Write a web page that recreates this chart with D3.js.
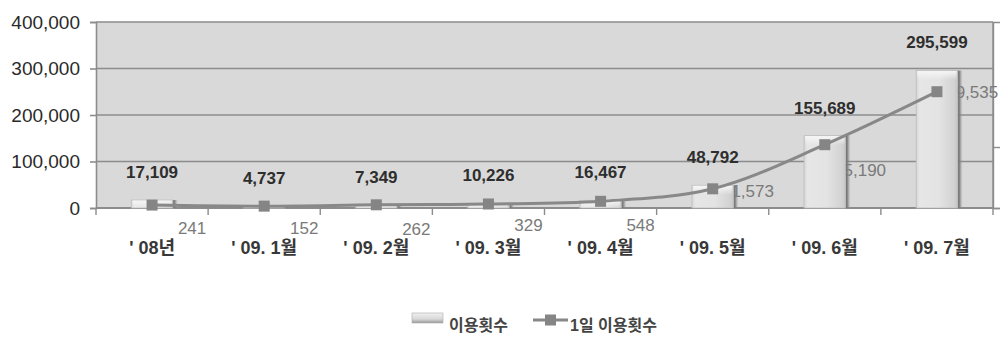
<!DOCTYPE html>
<html>
<head>
<meta charset="utf-8">
<script src="https://d3js.org/d3.v7.min.js"></script>
<style>
  body { margin: 0; background: #fff; }
  text { font-family: "Liberation Sans", Arial, "Noto Sans CJK KR", sans-serif; }
  .ko { font-family: "Liberation Sans", "Noto Sans CJK KR", sans-serif; }
</style>
</head>
<body>
<div class="chart"></div>
<script>
// data
var categories = ["' 08년", "' 09. 1월", "' 09. 2월", "' 09. 3월", "' 09. 4월", "' 09. 5월", "' 09. 6월", "' 09. 7월"];
var useCount = [17109, 4737, 7349, 10226, 16467, 48792, 155689, 295599];
var dailyCount = [241, 152, 262, 329, 548, 1573, 5190, 9535];
var leftTicks = [0, 100000, 200000, 300000, 400000];
var seriesNames = ["이용횟수", "1일 이용횟수"];

var w = 1004, h = 337;
var plotL = 96, plotR = 993, plotT = 22, plotB = 208;

var svg = d3.select(".chart").append("svg")
  .attr("width", w).attr("height", h);

var defs = svg.append("defs");
var g1 = defs.append("linearGradient").attr("id", "barGrad").attr("x1", 0).attr("x2", 1).attr("y1", 0).attr("y2", 0);
[[0, "#d6d6d6"], [0.08, "#e6e6e6"], [0.55, "#e3e3e3"], [0.92, "#d2d2d2"], [1, "#c4c4c4"]]
  .forEach(function(s) { g1.append("stop").attr("offset", s[0]).attr("stop-color", s[1]); });
var g2 = defs.append("linearGradient").attr("id", "topGrad").attr("x1", 0).attr("x2", 0).attr("y1", 0).attr("y2", 1);
g2.append("stop").attr("offset", 0).attr("stop-color", "#f6f6f6").attr("stop-opacity", 1);
g2.append("stop").attr("offset", 1).attr("stop-color", "#f6f6f6").attr("stop-opacity", 0);
var g4 = defs.append("linearGradient").attr("id", "shadowGrad").attr("x1", 0).attr("x2", 1).attr("y1", 0).attr("y2", 0);
g4.append("stop").attr("offset", 0).attr("stop-color", "#6a6a6a").attr("stop-opacity", 1);
g4.append("stop").attr("offset", 0.35).attr("stop-color", "#7a7a7a").attr("stop-opacity", 0.9);
g4.append("stop").attr("offset", 1).attr("stop-color", "#9a9a9a").attr("stop-opacity", 0);
var g3 = defs.append("linearGradient").attr("id", "legGrad").attr("x1", 0).attr("x2", 0).attr("y1", 0).attr("y2", 1);
g3.append("stop").attr("offset", 0).attr("stop-color", "#f0f0f0");
g3.append("stop").attr("offset", 0.6).attr("stop-color", "#d8d8d8");
g3.append("stop").attr("offset", 1).attr("stop-color", "#999");

var x = d3.scaleBand().domain(categories).range([plotL, plotR]);
var yL = d3.scaleLinear().domain([0, 400000]).range([plotB, plotT]);
var yR = d3.scaleLinear().domain([0, 15250]).range([plotB, plotT]);

// plot area
svg.append("rect")
  .attr("x", plotL).attr("y", plotT)
  .attr("width", plotR - plotL).attr("height", plotB - plotT)
  .attr("fill", "#d9d9d9");

svg.append("g").selectAll("line")
  .data(leftTicks.slice(1))
  .enter().append("line")
  .attr("x1", plotL).attr("x2", plotR)
  .attr("y1", function(d) { return yL(d); })
  .attr("y2", function(d) { return yL(d); })
  .attr("stroke", "#8c8c8c").attr("stroke-width", 1.6);

// right border
svg.append("line")
  .attr("x1", plotR).attr("x2", plotR).attr("y1", plotT).attr("y2", plotB)
  .attr("stroke", "#8c8c8c").attr("stroke-width", 1.4);

// left axis
var axL = svg.append("g")
  .attr("transform", "translate(" + plotL + ",0)")
  .call(d3.axisLeft(yL).tickValues(leftTicks).tickFormat(d3.format(",")).tickSize(6).tickPadding(10));
axL.select(".domain").attr("stroke", "#8c8c8c").attr("stroke-width", 1.6);
axL.selectAll(".tick line").attr("stroke", "#8c8c8c").attr("stroke-width", 1.6);
axL.selectAll("text").attr("font-size", 19).attr("fill", "#2a2a2a")
  .attr("font-family", "Liberation Sans, Arial, sans-serif");

// right axis (no labels)
var axR = svg.append("g")
  .attr("transform", "translate(" + plotR + ",0)")
  .call(d3.axisRight(yR).tickValues([0, 5000]).tickFormat("").tickSize(7));
axR.select(".domain").attr("stroke", "#8c8c8c").attr("stroke-width", 1.4);
axR.selectAll(".tick line").attr("stroke", "#8c8c8c").attr("stroke-width", 1.4);

// bottom axis: boundary ticks + centred labels
var bounds = categories.map(function(c) { return x(c); }).concat([plotR]);
svg.append("line")
  .attr("x1", plotL).attr("x2", plotR).attr("y1", plotB).attr("y2", plotB)
  .attr("stroke", "#8c8c8c").attr("stroke-width", 1.8);
svg.append("g").selectAll("line")
  .data(bounds).enter().append("line")
  .attr("x1", function(d) { return d; }).attr("x2", function(d) { return d; })
  .attr("y1", plotB).attr("y2", plotB + 7)
  .attr("stroke", "#8c8c8c").attr("stroke-width", 1.4);
svg.append("g").selectAll("text")
  .data(categories).enter().append("text")
  .attr("class", "ko")
  .attr("x", function(d) { return x(d) + x.bandwidth() / 2; })
  .attr("y", 248)
  .attr("dy", "0.35em")
  .attr("text-anchor", "middle")
  .attr("font-size", 18)
  .attr("font-weight", "bold")
  .attr("fill", "#383838")
  .text(function(d) { return d; });

// line value labels (behind the bars, as in the original)
var lineLabelDy = [23, 22, 24, 21, 24, 2, 25, 0];
svg.append("g").selectAll("text")
  .data(dailyCount).enter().append("text")
  .attr("x", function(d, i) { return x(categories[i]) + x.bandwidth() / 2 + 40; })
  .attr("y", function(d, i) { return yR(d) + lineLabelDy[i]; })
  .attr("dy", "0.35em")
  .attr("text-anchor", "middle")
  .attr("font-size", 17)
  .attr("fill", "#7a7a7a")
  .text(function(d) { return d3.format(",")(d); });

// bars
var barW = x.bandwidth() * 0.37;
var barX = function(i) { return x(categories[i]) + (x.bandwidth() - barW) / 2; };
var bars = svg.append("g").selectAll("g")
  .data(useCount).enter().append("g");
bars.append("rect")
  .attr("x", function(d, i) { return barX(i) + barW; })
  .attr("y", function(d) { return yL(d); })
  .attr("width", 5)
  .attr("height", function(d) { return plotB - yL(d); })
  .attr("fill", "url(#shadowGrad)");
bars.append("rect")
  .attr("x", function(d, i) { return barX(i); })
  .attr("y", function(d) { return yL(d); })
  .attr("width", barW)
  .attr("height", function(d) { return plotB - yL(d); })
  .attr("fill", "url(#barGrad)")
  .attr("stroke", "#bdbdbd").attr("stroke-width", 0.8);
bars.append("rect")
  .attr("x", function(d, i) { return barX(i) + 1; })
  .attr("y", function(d) { return yL(d) + 0.5; })
  .attr("width", barW - 2)
  .attr("height", function(d) { return Math.min(9, plotB - yL(d)); })
  .attr("fill", "url(#topGrad)");

// bar value labels
svg.append("g").selectAll("text")
  .data(useCount).enter().append("text")
  .attr("x", function(d, i) { return x(categories[i]) + x.bandwidth() / 2; })
  .attr("y", function(d) { return yL(d) - 28; })
  .attr("dy", "0.35em")
  .attr("text-anchor", "middle")
  .attr("font-size", 17)
  .attr("font-weight", "bold")
  .attr("fill", "#2e2e2e")
  .text(function(d) { return d3.format(",")(d); });

// line
var line = d3.line()
  .x(function(d, i) { return x(categories[i]) + x.bandwidth() / 2; })
  .y(function(d) { return yR(d); })
  .curve(d3.curveCatmullRom.alpha(0.5));
svg.append("path")
  .datum(dailyCount)
  .attr("d", line)
  .attr("fill", "none")
  .attr("stroke", "#888")
  .attr("stroke-width", 3);
svg.append("g").selectAll("rect")
  .data(dailyCount).enter().append("rect")
  .attr("x", function(d, i) { return x(categories[i]) + x.bandwidth() / 2 - 5.5; })
  .attr("y", function(d) { return yR(d) - 5.5; })
  .attr("width", 11).attr("height", 11)
  .attr("fill", "#858585");

// legend
var leg = svg.append("g");
leg.append("rect")
  .attr("x", 412).attr("y", 313).attr("width", 31).attr("height", 10)
  .attr("fill", "url(#legGrad)").attr("stroke", "#aaa").attr("stroke-width", 0.6);
leg.append("text")
  .attr("class", "ko")
  .attr("x", 449).attr("y", 325).attr("dy", "0.35em")
  .attr("font-size", 16).attr("font-weight", "bold").attr("fill", "#444")
  .text(seriesNames[0]);
leg.append("line")
  .attr("x1", 533).attr("x2", 568).attr("y1", 320).attr("y2", 320)
  .attr("stroke", "#888").attr("stroke-width", 3);
leg.append("rect")
  .attr("x", 545).attr("y", 314.5).attr("width", 11).attr("height", 11)
  .attr("fill", "#858585");
leg.append("text")
  .attr("class", "ko")
  .attr("x", 570).attr("y", 325).attr("dy", "0.35em")
  .attr("font-size", 16).attr("font-weight", "bold").attr("fill", "#444")
  .text(seriesNames[1]);
</script>
</body>
</html>
